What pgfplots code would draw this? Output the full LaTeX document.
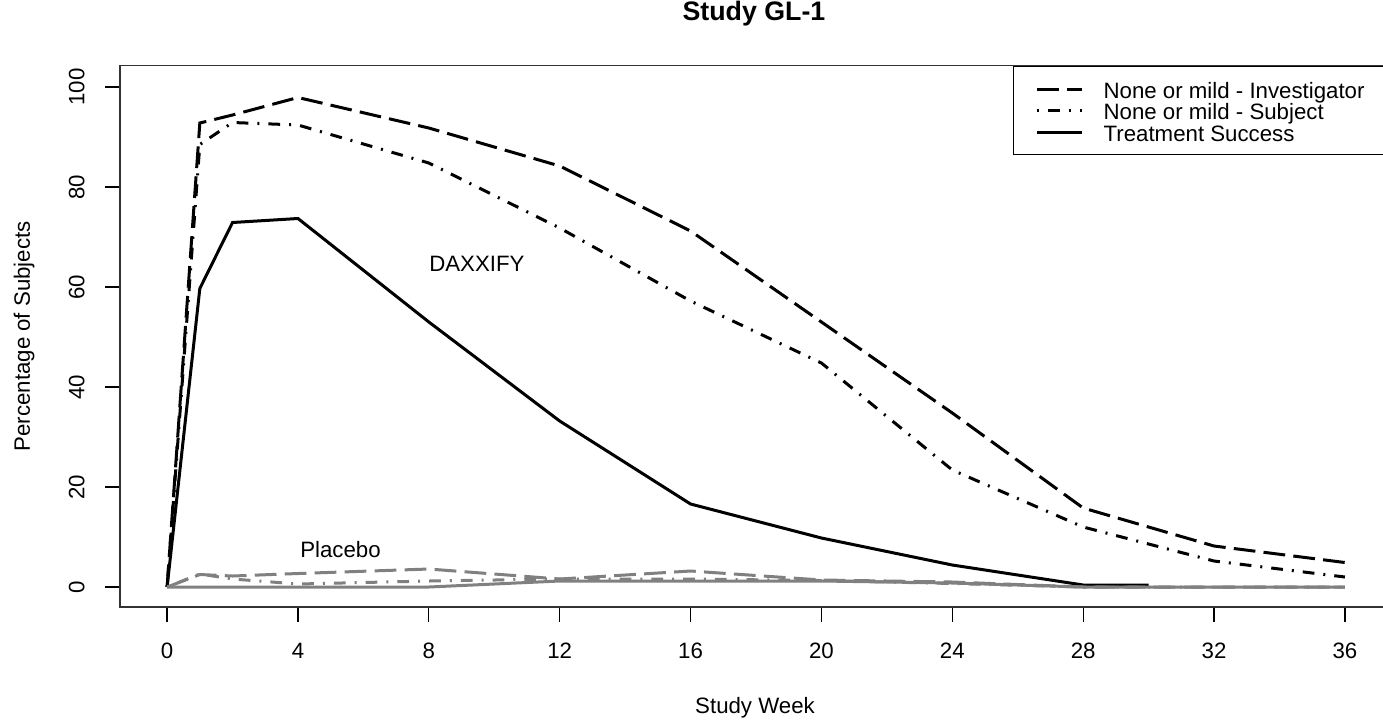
\documentclass[border=0pt]{standalone}
\usepackage{fontspec}
\setmainfont{Liberation Sans}
\usepackage{pgfplots}
\pgfplotsset{compat=1.18}
\definecolor{rgray}{RGB}{128,128,128}
\begin{document}
\begin{tikzpicture}
\useasboundingbox (-48pt,-44.8pt) rectangle (505.2pt,242.8pt);
\begin{axis}[
  at={(0pt,0pt)}, anchor=south west,
  scale only axis, width=508.8pt, height=216.52pt,
  xmin=-1.44, xmax=37.44, ymin=-4, ymax=104.26,
  xtick={0,4,...,36}, ytick={0,20,...,100},
  tick align=outside, xtick pos=bottom, ytick pos=left,
  major tick length=5.8pt,
  every tick/.style={black, line width=0.5pt},
  axis line style={black!80, line width=0.6pt},
  /pgf/number format/assume math mode=true,
  font=\fontsize{8.9}{10.7}\selectfont,
  ticklabel style={font=\fontsize{8.9}{10.7}\selectfont},
  xticklabel style={anchor=north, inner sep=0pt, yshift=-8.5pt},
  yticklabel style={xshift=-8.2pt, rotate=90, anchor=south, inner sep=0pt},
  title={Study GL-1},
  title style={at={(axis description cs:0.4984,1.0558)}, anchor=base, inner sep=0pt, font=\fontsize{10.7}{12.8}\selectfont\bfseries},
  xlabel={Study Week},
  xlabel style={at={(axis description cs:0.4992,-0.1958)}, anchor=base, inner sep=0pt},
  ylabel={Percentage of Subjects},
  ylabel style={at={(axis description cs:-0.0708,0.5)}, anchor=base, inner sep=0pt},
  legend style={at={(0.70204,1)}, anchor=north west, draw=black, line width=0.5pt, fill=white,
    inner xsep=8.8pt, inner ysep=4.8pt, row sep=0pt, column sep=8.0pt,
    nodes={inner sep=0pt, text height=8pt, text depth=0.6pt, font=\fontsize{8.9}{10.7}\selectfont}},
  legend cell align=left,
  legend image code/.code={\draw[#1] (0pt,0pt) -- (18pt,0pt);},
]
% DAXXIFY
\addplot[black, line width=1.2pt, dash pattern=on 8.7pt off 3.3pt] coordinates {
 (0,0) (1,92.8) (2,94.4) (4,97.9) (8,91.8) (12,84.2) (16,71.2) (20,53) (24,34.8) (28,15.8) (32,8.2) (36,4.9)};
\addlegendentry{None or mild - Investigator}
\addplot[black, line width=1.2pt, dash pattern=on 0.8pt off 3.6pt on 4.7pt off 3.6pt] coordinates {
 (0,0) (1,88.5) (2,92.9) (4,92.4) (8,84.8) (12,71.8) (16,57.2) (20,44.8) (24,23.4) (28,12) (32,5.2) (36,2)};
\addlegendentry{None or mild - Subject}
\addplot[black, line width=1.2pt] coordinates {
 (0,0) (1,59.7) (2,72.9) (4,73.7) (8,53) (12,33.2) (16,16.6) (20,9.8) (24,4.4) (28,0.4) (30,0.4)};
\addlegendentry{Treatment Success}
% Placebo
\addplot[rgray, line width=1.2pt, dash pattern=on 8.7pt off 3.3pt, forget plot] coordinates {
 (0,0) (1,2.5) (2,2.2) (4,2.7) (8,3.6) (12,1.6) (16,3.2) (20,1.4) (24,1.0) (28,0) (32,0) (36,0)};
\addplot[rgray, line width=1.2pt, dash pattern=on 0.8pt off 3.6pt on 4.7pt off 3.6pt, forget plot] coordinates {
 (0,0) (1,2.6) (2,1.6) (4,0.6) (8,1.2) (12,1.6) (16,1.6) (20,1.3) (24,0.7) (28,0) (32,0) (36,0)};
\addplot[rgray, line width=1.2pt, forget plot] coordinates {
 (0,0) (1,0) (2,0) (4,0) (8,0) (12,1.2) (16,1.2) (20,1.2) (24,0.8) (28,0) (32,0) (36,0)};
\node at (axis cs:9.47,64.7) {DAXXIFY};
\node at (axis cs:5.3,7.5) {Placebo};
\end{axis}
\end{tikzpicture}
\end{document}
